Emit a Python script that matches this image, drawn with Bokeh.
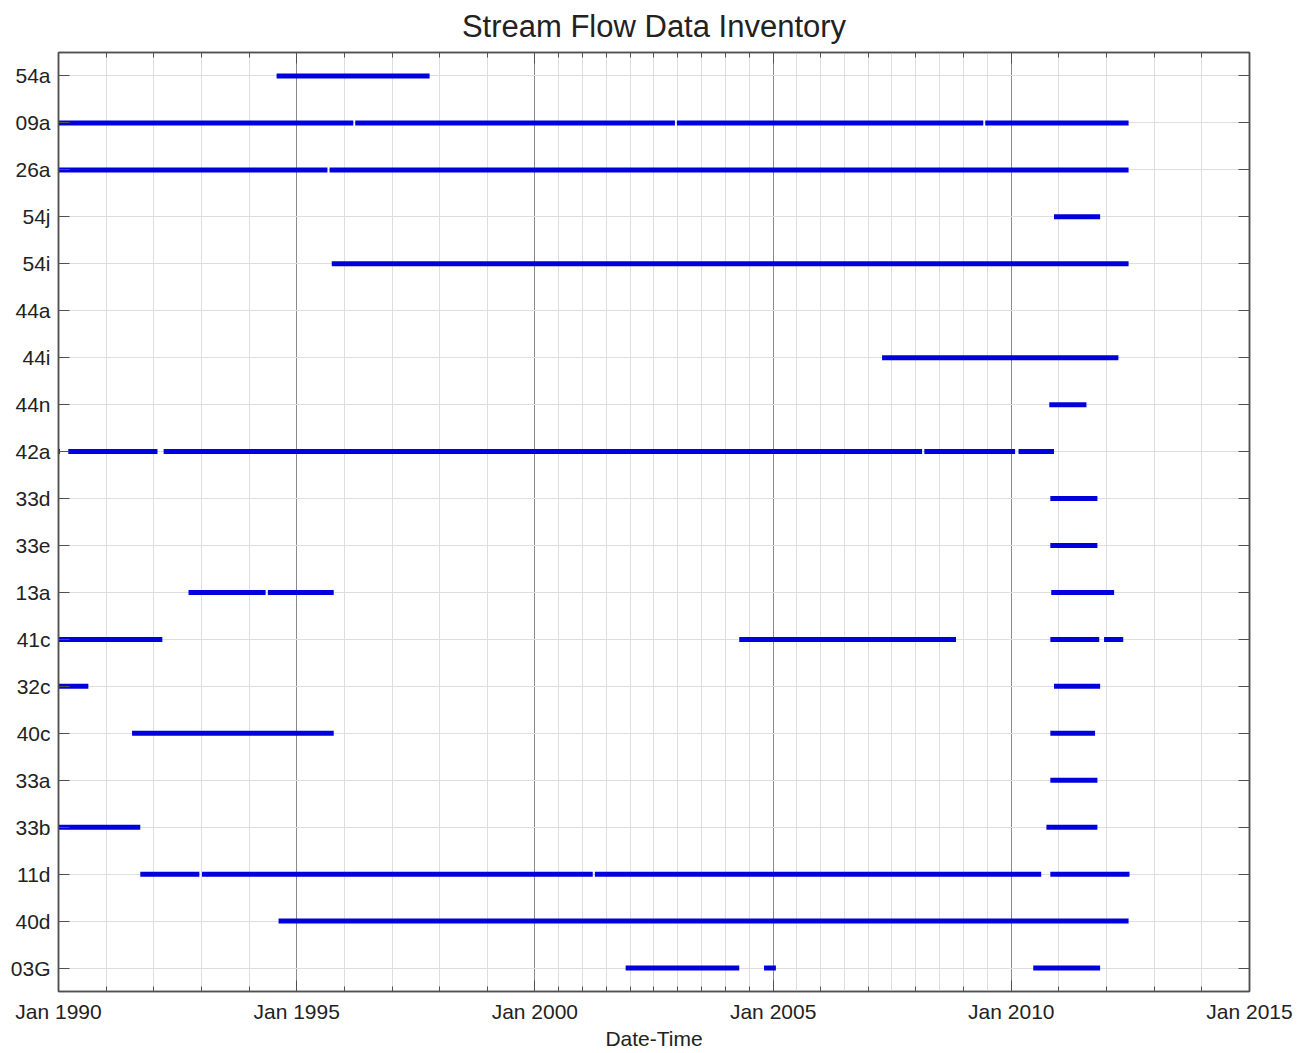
import pandas as pd
from bokeh.plotting import figure
from bokeh.models import (FactorRange, FixedTicker, DatetimeTickFormatter, DatetimeAxis,
                          CategoricalAxis, Grid, CustomJSTickFormatter, Range1d)
from bokeh.embed import file_html
from bokeh.resources import INLINE

# ---------------- data ----------------
stations = ["54a", "09a", "26a", "54j", "54i", "44a", "44i", "44n", "42a", "33d",
            "33e", "13a", "41c", "32c", "40c", "33a", "33b", "11d", "40d", "03G"]

seg_station = [
    "54a",
    "09a", "09a", "09a", "09a",
    "26a", "26a",
    "54j",
    "54i",
    "44i",
    "44n",
    "42a", "42a", "42a", "42a", "42a",
    "33d",
    "33e",
    "13a", "13a", "13a",
    "41c", "41c", "41c", "41c",
    "32c", "32c",
    "40c", "40c",
    "33a",
    "33b", "33b",
    "11d", "11d", "11d", "11d",
    "40d",
    "03G", "03G", "03G",
]
seg_start = [
    "1994-07-31",
    "1990-01-01", "1996-03-25", "2002-12-25", "2009-06-15",
    "1990-01-01", "1995-09-10",
    "2010-11-24",
    "1995-09-27",
    "2007-04-16",
    "2010-10-19",
    "1990-01-01", "1990-03-17", "1992-03-17", "2008-03-05", "2010-02-25",
    "2010-10-27",
    "2010-10-27",
    "1992-09-24", "1994-05-25", "2010-11-03",
    "1990-01-01", "2004-04-16", "2010-10-27", "2011-12-13",
    "1990-01-01", "2010-11-24",
    "1991-07-19", "2010-10-27",
    "2010-10-27",
    "1990-01-01", "2010-09-27",
    "1991-09-20", "1993-01-05", "2001-04-05", "2010-10-27",
    "1994-08-15",
    "2001-11-27", "2004-10-23", "2010-06-18",
]
seg_end = [
    "1997-10-16",
    "1996-03-10", "2002-12-10", "2009-05-31", "2012-06-18",
    "1995-08-25", "2012-06-18",
    "2011-11-13",
    "2012-06-18",
    "2012-04-01",
    "2011-07-31",
    "1990-01-12", "1992-01-30", "2008-02-17", "2010-01-30", "2010-11-24",
    "2011-10-23",
    "2011-10-23",
    "1994-05-08", "1995-10-12", "2012-02-28",
    "1992-03-07", "2008-11-03", "2011-11-06", "2012-05-08",
    "1990-08-18", "2011-11-13",
    "1995-10-12", "2011-10-05",
    "2011-10-23",
    "1991-09-20", "2011-10-23",
    "1992-12-16", "2001-03-20", "2010-08-18", "2012-06-25",
    "2012-06-18",
    "2004-04-16", "2005-01-22", "2011-11-13",
]

major_tick_dates = ["1990-01-01", "1995-01-01", "2000-01-01", "2005-01-01",
                    "2010-01-01", "2015-01-01"]
minor_tick_dates = [f"{y}-01-01" for y in range(1990, 2016)] + \
                   [f"{y}-07-01" for y in range(2000, 2005)]
extra_grid_dates = [f"{y}-07-01" for y in range(2005, 2010)]


def ms(d):
    return pd.Timestamp(d).value / 1e6


starts = [pd.Timestamp(d) for d in seg_start]
ends = [pd.Timestamp(d) for d in seg_end]

FONT = "Liberation Sans"
TXT = "#222222"
AX = "#505050"

p = figure(width=1298, height=1052, output_backend="svg", toolbar_location=None,
           x_axis_type="datetime",
           x_range=Range1d(pd.Timestamp("1990-01-01"), pd.Timestamp("2015-01-01")),
           y_range=FactorRange(factors=list(reversed(stations))),
           min_border_left=58, min_border_right=49, min_border_top=52, min_border_bottom=61,
           title="Stream Flow Data Inventory")

p.title.text_font = FONT
p.title.text_font_size = "31px"
p.title.text_font_style = "normal"
p.title.text_color = TXT
p.title.align = "center"
p.title.vertical_align = "top"
p.title.standoff = 14

p.outline_line_color = AX
p.outline_line_width = 1.5
p.background_fill_color = "white"
p.border_fill_color = "white"

ticker = FixedTicker(ticks=[ms(d) for d in major_tick_dates],
                     minor_ticks=[ms(d) for d in minor_tick_dates])
fmt = "%b %Y"
formatter = DatetimeTickFormatter(years=fmt, months=fmt, days=fmt, hours=fmt,
                                  minutes=fmt, seconds=fmt, milliseconds=fmt,
                                  microseconds=fmt, hourmin=fmt, minsec=fmt)

xa = p.xaxis[0]
xa.ticker = ticker
xa.formatter = formatter
xa.axis_label = "Date-Time"
xa.axis_label_text_font = FONT
xa.axis_label_text_font_size = "21px"
xa.axis_label_text_font_style = "normal"
xa.axis_label_text_color = TXT
xa.axis_label_standoff = 1
xa.major_label_text_font = FONT
xa.major_label_text_font_size = "21px"
xa.major_label_text_color = TXT
xa.major_label_standoff = 8
xa.major_tick_in = 11
xa.major_tick_out = 0
xa.minor_tick_in = 5
xa.minor_tick_out = 0
xa.axis_line_color = AX
xa.axis_line_width = 1.5
xa.major_tick_line_color = AX
xa.minor_tick_line_color = AX

ya = p.yaxis[0]
ya.major_label_text_font = FONT
ya.major_label_text_font_size = "21px"
ya.major_label_text_color = TXT
ya.major_label_standoff = 8
ya.major_tick_in = 11
ya.major_tick_out = 0
ya.axis_line_color = AX
ya.axis_line_width = 1.5
ya.major_tick_line_color = AX

blank = CustomJSTickFormatter(code="return ''")

# top axis (ticks only)
top = DatetimeAxis(ticker=ticker, formatter=blank,
                   major_tick_in=11, major_tick_out=0, minor_tick_in=5, minor_tick_out=0,
                   major_label_standoff=0, major_label_text_font_size="0px",
                   axis_line_color=AX, axis_line_width=1.5,
                   major_tick_line_color=AX, minor_tick_line_color=AX)
p.add_layout(top, "above")

# right axis (ticks only)
right = CategoricalAxis(formatter=blank,
                        major_tick_in=11, major_tick_out=0, major_label_standoff=0,
                        major_label_text_font_size="0px",
                        axis_line_color=AX, axis_line_width=1.5,
                        major_tick_line_color=AX)
p.add_layout(right, "right")

# grids
p.xgrid.grid_line_color = "#8a8a8a"
p.xgrid.grid_line_width = 1
p.xgrid.minor_grid_line_color = "#dedede"
p.xgrid.minor_grid_line_width = 1
p.ygrid.grid_line_color = "#dedede"
p.ygrid.grid_line_width = 1
p.add_layout(Grid(dimension=0, ticker=FixedTicker(ticks=[ms(d) for d in extra_grid_dates]),
                  grid_line_color="#dedede", grid_line_width=1))

p.segment(x0=starts, y0=seg_station, x1=ends, y1=seg_station,
          line_color="#0000dd", line_width=5, line_cap="butt")

open("out.html", "w").write(file_html(p, INLINE))
